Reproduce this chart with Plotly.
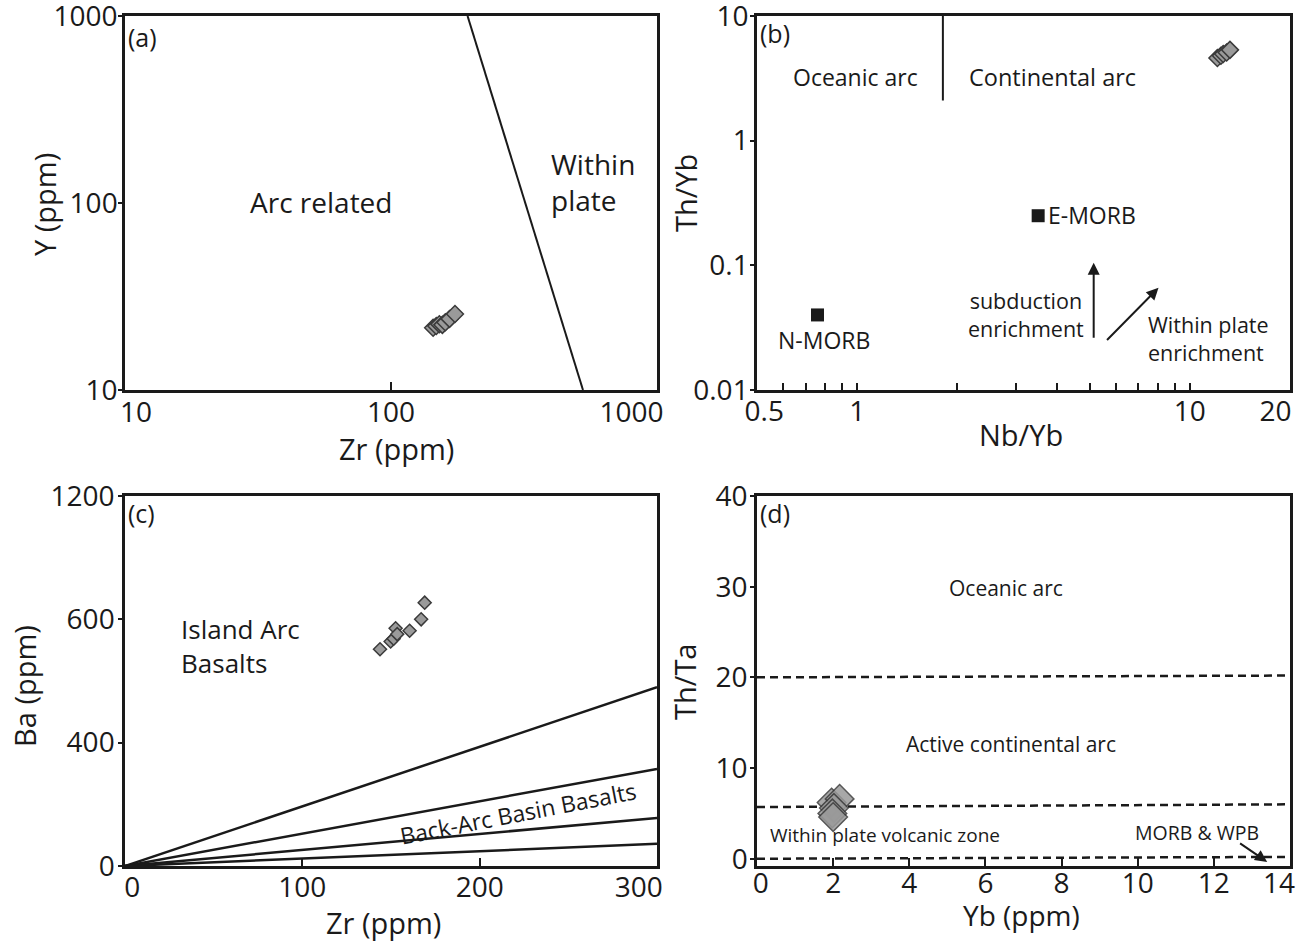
import numpy as np
import plotly.graph_objects as go

W, H = 1296, 941
FONT = "Open Sans"
NB = "\u00a0"

# ---------------- data ----------------
# (a) Y vs Zr (log-log)
a_zr = [144, 148, 152, 156, 160, 166, 174]
a_y = [21.5, 22.0, 22.5, 22.3, 23.0, 24.0, 25.5]
a_bound_zr = [194, 527]
a_bound_y = [1000, 10]
a_ticks = [10, 100, 1000]
a_xtext = ["10", "100", "1000"]
a_ytext = ["10", "100", "1000"]

# (b) Th/Yb vs Nb/Yb (log-log)
b_nbyb = [12.1, 12.4, 12.6, 12.9, 13.2]
b_thyb = [4.6, 4.8, 4.95, 5.1, 5.35]
b_ref_names = ["N-MORB", "E-MORB"]
b_ref_nbyb = [0.76, 3.5]
b_ref_thyb = [0.04, 0.25]
b_div_nbyb = [1.81, 1.81]
b_div_thyb = [2.1, 10]
b_xticks = [0.5, 0.6, 0.7, 0.8, 0.9, 1, 2, 3, 4, 5, 6, 7, 8, 9, 10, 20]
b_xtext = ["0.5", "", "", "", "", "1", "", "", "", "", "", "", "", "", "10", "20"]
b_yticks = [0.01, 0.1, 1, 10]
b_ytext = ["0.01", "0.1", "1", "10"]
b_arrow_sub = [(5.14, 0.0255), (5.14, 0.105)]
b_arrow_wpe = [(5.58, 0.0245), (8.05, 0.066)]

# (c) Ba vs Zr
c_zr = [143.8, 149.8, 151.5, 152.6, 153.5, 160.5, 167, 169]
c_ba = [703, 728, 737, 771, 752, 763, 800, 854]
c_line_zr_end = 300
c_line_ba_end = [580, 315, 156, 72]
c_yticks = [0, 400, 800, 1200]
c_ytext = ["0", "400", "600", "1200"]
c_xticks = [0, 100, 200, 300]
c_xtext = ["0", "100", "200", "300"]

# (d) Th/Ta vs Yb
d_yb = [1.96, 2.17, 2.02, 1.98, 2.0]
d_thta = [6.2, 6.6, 5.6, 5.0, 4.6]
d_dash_yb = [0, 14]
d_dash_thta = [[20.0, 20.2], [5.7, 6.0], [0.0, 0.2]]
d_xticks = [0, 2, 4, 6, 8, 10, 12, 14]
d_xtext = ["0", "2", "4", "6", "8", "10", "12", "14"]
d_yticks = [0, 10, 20, 30, 40]
d_ytext = ["0", "10", "20", "30", "40"]
d_arrow = [(12.65, 1.8), (13.4, -0.35)]

# ---------------- helpers ----------------
def px(x):
    return x / W

def py(y):
    return 1 - y / H

def inset(labels, first=0, last=0):
    """nudge the first / last tick label inward like the reference"""
    out = list(labels)
    out[0] = NB * first + out[0]
    out[-1] = out[-1] + NB * last
    return out

dom = {
    "a": ([125, 657], [16, 390]),
    "b": ([757, 1290], [16, 390]),
    "c": ([125, 657], [496, 866]),
    "d": ([757, 1290], [496, 866]),
}

def xd(k):
    return [px(dom[k][0][0]), px(dom[k][0][1])]

def yd(k):
    return [py(dom[k][1][1]), py(dom[k][1][0])]

BLACK = "#1a1a1a"
MFILL = "#9a9a9a"
MLINE = "#3a3a3a"

fig = go.Figure()

# (a)
fig.add_trace(go.Scatter(x=a_bound_zr, y=a_bound_y, mode="lines",
                         line=dict(color=BLACK, width=2), xaxis="x", yaxis="y", showlegend=False))
fig.add_trace(go.Scatter(x=a_zr, y=a_y, mode="markers",
                         marker=dict(symbol="diamond", size=13, color=MFILL, line=dict(color=MLINE, width=1.5)),
                         xaxis="x", yaxis="y", showlegend=False))
# (b)
fig.add_trace(go.Scatter(x=b_div_nbyb, y=b_div_thyb, mode="lines",
                         line=dict(color=BLACK, width=2), xaxis="x2", yaxis="y2", showlegend=False))
fig.add_trace(go.Scatter(x=b_ref_nbyb, y=b_ref_thyb, mode="markers",
                         marker=dict(symbol="square", size=13, color=BLACK),
                         xaxis="x2", yaxis="y2", showlegend=False))
fig.add_trace(go.Scatter(x=b_nbyb, y=b_thyb, mode="markers",
                         marker=dict(symbol="diamond", size=13, color=MFILL, line=dict(color=MLINE, width=1.5)),
                         xaxis="x2", yaxis="y2", showlegend=False))
# (c)
for end in c_line_ba_end:
    fig.add_trace(go.Scatter(x=[0, c_line_zr_end], y=[0, end], mode="lines",
                             line=dict(color=BLACK, width=2.5), xaxis="x3", yaxis="y3", showlegend=False))
fig.add_trace(go.Scatter(x=c_zr, y=c_ba, mode="markers",
                         marker=dict(symbol="diamond", size=10, color=MFILL, line=dict(color=MLINE, width=1.5)),
                         xaxis="x3", yaxis="y3", showlegend=False))
# (d)
for ys in d_dash_thta:
    fig.add_trace(go.Scatter(x=d_dash_yb, y=ys, mode="lines",
                             line=dict(color=BLACK, width=2.5, dash="8px,5px"), xaxis="x4", yaxis="y4",
                             showlegend=False))
fig.add_trace(go.Scatter(x=d_yb, y=d_thta, mode="markers",
                         marker=dict(symbol="diamond", size=22, color=MFILL, opacity=0.85,
                                     line=dict(color=MLINE, width=1.5)),
                         xaxis="x4", yaxis="y4", showlegend=False))

TICKFONT = dict(family=FONT, size=28, color=BLACK)

def xax(k, **kw):
    d = dict(domain=xd(k), showline=True, mirror=True, linecolor=BLACK, linewidth=2.5,
             showgrid=False, zeroline=False, ticks="inside", ticklen=8, tickwidth=2,
             tickcolor=BLACK, tickfont=TICKFONT, automargin=False, ticklabeloverflow="allow")
    d.update(kw)
    return d

def yax(k, **kw):
    d = dict(domain=yd(k), showline=True, mirror=True, linecolor=BLACK, linewidth=2.5,
             showgrid=False, zeroline=False, ticks="outside", ticklen=4, tickwidth=2,
             tickcolor=BLACK, tickfont=TICKFONT, automargin=False, ticklabeloverflow="allow")
    d.update(kw)
    return d

fig.update_layout(
    width=W, height=H, margin=dict(l=0, r=0, t=0, b=0, autoexpand=False),
    paper_bgcolor="white", plot_bgcolor="white", showlegend=False,
    font=dict(family=FONT, color=BLACK),
    xaxis=xax("a", type="log", range=[1, 3], tickvals=a_ticks, ticktext=inset(a_xtext, 3, 7),
              ticklabelstandoff=-4, anchor="y"),
    yaxis=yax("a", type="log", range=[1, 3], tickvals=a_ticks, ticktext=a_ytext,
              ticklabelstandoff=-5, anchor="x"),
    xaxis2=xax("b", type="log", range=[np.log10(0.5), np.log10(20)], tickvals=b_xticks,
               ticktext=inset(b_xtext, 2, 4), ticklen=7, ticklabelstandoff=-5, anchor="y2"),
    yaxis2=yax("b", type="log", range=[-2, 1], tickvals=b_yticks, ticktext=b_ytext,
               ticklabelstandoff=-4, anchor="x2"),
    xaxis3=xax("c", range=[0, 300], tickvals=c_xticks, ticktext=inset(c_xtext, 2, 5),
               ticklabelstandoff=-5, anchor="y3"),
    yaxis3=yax("c", range=[0, 1200], tickvals=c_yticks, ticktext=c_ytext,
               ticklabelstandoff=-2, anchor="x3"),
    xaxis4=xax("d", range=[0, 14], tickvals=d_xticks, ticktext=inset(d_xtext, 1, 3),
               ticklabelstandoff=-9, anchor="y4"),
    yaxis4=yax("d", range=[-0.8, 40], tickvals=d_yticks, ticktext=d_ytext,
               ticklabelstandoff=-3, anchor="x4"),
)

ann = []

def txt(text, x, y, size=24, xanchor="center", yanchor="middle", angle=0, align="center"):
    ann.append(dict(text=text, x=px(x), y=py(y), xref="paper", yref="paper", showarrow=False,
                    xanchor=xanchor, yanchor=yanchor, textangle=angle, align=align, borderpad=0,
                    font=dict(family=FONT, size=size, color=BLACK)))

# (a)
txt("(a)", 127, 37, 25, xanchor="left")
txt("Arc related", 321, 202, 28)
txt("Within<br>plate", 550, 182, 28, xanchor="left", align="left")
txt("Zr (ppm)", 396, 448, 29)
txt("Y (ppm)", 45, 205, 29, angle=-90)
# (b)
txt("(b)", 759, 33, 25, xanchor="left")
txt("Oceanic arc", 855, 77, 23)
txt("Continental arc", 1052, 77, 23.5)
txt(b_ref_names[1], 1047, 215, 23, xanchor="left")
txt(b_ref_names[0], 824, 340, 23)
txt("subduction<br>enrichment", 1026, 314, 21.5)
txt("Within plate<br>enrichment", 1147, 338, 21.5, xanchor="left", align="left")
txt("Th/Yb", 686, 193, 29, angle=-90)
txt("Nb/Yb", 1021, 435, 29)
# (c)
txt("(c)", 127, 513, 25, xanchor="left")
txt("Island Arc<br>Basalts", 180, 646, 26, xanchor="left", align="left")
txt("Back-Arc Basin Basalts", 518, 813, 23, angle=-11)
txt("Zr (ppm)", 383, 922, 29)
txt("Ba (ppm)", 24, 686, 29, angle=-90)
# (d)
txt("(d)", 759, 513, 25, xanchor="left")
txt("Oceanic arc", 1006, 588, 21)
txt("Active continental arc", 1011, 744, 21)
txt("Within plate volcanic zone", 885, 835, 19)
txt("MORB &amp; WPB", 1197, 832, 19.5)
txt("Yb (ppm)", 1022, 915, 28)
txt("Th/Ta", 684, 682, 29, angle=-90)

# arrows (b): log axes -> annotation coords in log10
for (x0, y0), (x1, y1) in [b_arrow_sub, b_arrow_wpe]:
    ann.append(dict(x=np.log10(x1), y=np.log10(y1), ax=np.log10(x0), ay=np.log10(y0),
                    xref="x2", yref="y2", axref="x2", ayref="y2", showarrow=True,
                    arrowhead=2, arrowsize=1.2, arrowwidth=2, arrowcolor=BLACK, text=""))
# arrow (d)
(x0, y0), (x1, y1) = d_arrow
ann.append(dict(x=x1, y=y1, ax=x0, ay=y0, xref="x4", yref="y4", axref="x4", ayref="y4",
                showarrow=True, arrowhead=2, arrowsize=1.2, arrowwidth=2, arrowcolor=BLACK, text=""))

fig.update_layout(annotations=ann)
fig.write_html("out.html")
